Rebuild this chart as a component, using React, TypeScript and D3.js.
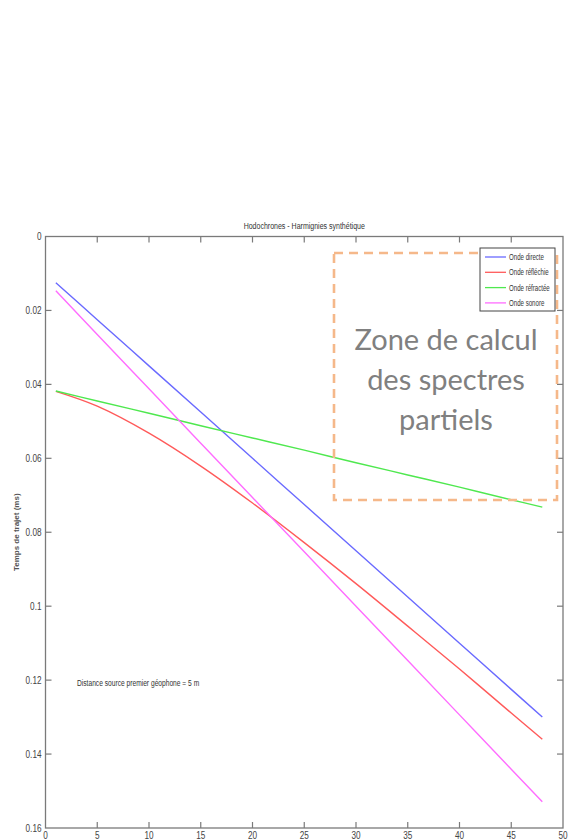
import React, { useEffect, useRef } from 'react';
import * as d3 from 'd3';

// offsets along the spread (m)
const positions = [1, 5, 10, 15, 20, 25, 30, 35, 40, 45, 48];
// travel times (s)
const directe = [0.0125, 0.0225, 0.035, 0.0475, 0.06, 0.0725, 0.085, 0.0975, 0.11, 0.1225, 0.13];
const reflechie = [0.0419, 0.0459, 0.0532, 0.0621, 0.0721, 0.0828, 0.0939, 0.1054, 0.117, 0.1289, 0.136];
const refractee = [0.0418, 0.0445, 0.0478, 0.0512, 0.0545, 0.0578, 0.0612, 0.0645, 0.0678, 0.0712, 0.0732];
const sonore = [0.0147, 0.0265, 0.0412, 0.0559, 0.0706, 0.0853, 0.1, 0.1147, 0.1294, 0.1441, 0.1529];

const seriesNames = ['Onde directe', 'Onde réfléchie', 'Onde réfractée', 'Onde sonore'];
const seriesColors = ['#6a6aff', '#ff5a5a', '#4fe84f', '#ff6cff'];
const xTicks = [0, 5, 10, 15, 20, 25, 30, 35, 40, 45, 50];
const yTicks = [0, 0.02, 0.04, 0.06, 0.08, 0.1, 0.12, 0.14, 0.16];
const zoneLines = ['Zone de calcul', 'des spectres', 'partiels'];

const sans = '"Liberation Sans", Arial, sans-serif';

export default function App() {
  const svgRef = useRef<SVGSVGElement>(null);

  useEffect(() => {
    if (!svgRef.current) return;
    const svg = d3.select(svgRef.current);
    svg.selectAll('*').remove();

    const W = 568, H = 840;
    const left = 45.5, right = 563, top = 236.5, bottom = 828;

    svg.attr('width', W).attr('height', H);
    svg.append('rect').attr('width', W).attr('height', H).attr('fill', '#fff');

    const x = d3.scaleLinear().domain([0, 50]).range([left, right]);
    const y = d3.scaleLinear().domain([0, 0.16]).range([top, bottom]);

    const axisColor = '#7a7a7a';
    const textColor = '#444';
    const tickLen = 6;

    // condensed text, matlab figure fonts look like arial narrow
    const narrowText = (g: any, tx: number, ty: number, txt: string, size: number,
                        anchor = 'start', dy = '0.35em', fill = textColor, sx = 0.78) =>
      g.append('text')
        .attr('transform', `translate(${tx},${ty}) scale(${sx},1)`)
        .attr('dy', dy)
        .attr('text-anchor', anchor)
        .style('font-family', sans).style('font-size', size + 'px').style('fill', fill)
        .text(txt);

    // box
    svg.append('rect')
      .attr('x', left).attr('y', top)
      .attr('width', right - left).attr('height', bottom - top)
      .attr('fill', 'none').attr('stroke', axisColor).attr('stroke-width', 1.3);

    // ticks (inward, mirrored like matlab)
    const tk = svg.append('g').attr('stroke', axisColor).attr('stroke-width', 1.2);
    xTicks.slice(1, -1).forEach(v => {
      tk.append('line').attr('x1', x(v)).attr('x2', x(v)).attr('y1', bottom).attr('y2', bottom - tickLen);
      tk.append('line').attr('x1', x(v)).attr('x2', x(v)).attr('y1', top).attr('y2', top + tickLen);
    });
    yTicks.slice(1, -1).forEach(v => {
      tk.append('line').attr('x1', left).attr('x2', left + tickLen).attr('y1', y(v)).attr('y2', y(v));
      tk.append('line').attr('x1', right).attr('x2', right - tickLen).attr('y1', y(v)).attr('y2', y(v));
    });

    const fmt = (d: number) => (d === 0 ? '0' : String(+d.toFixed(2)));

    const yg = svg.append('g');
    yTicks.forEach(d => narrowText(yg, left - 4, y(d), fmt(d), 10.5, 'end'));
    const xg = svg.append('g');
    xTicks.forEach(d => narrowText(xg, x(d), bottom + 3, String(d), 10.5, 'middle', '0.75em'));

    // title
    narrowText(svg, (left + right) / 2, top - 11, 'Hodochrones - Harmignies synthétique', 9, 'middle', '0.35em', '#333');

    // y label
    svg.append('text')
      .attr('transform', `translate(19,${(top + bottom) / 2}) rotate(-90)`)
      .attr('text-anchor', 'middle')
      .style('font-family', sans).style('font-size', '8px')
      .style('font-weight', 'bold').style('fill', '#555')
      .text('Temps de trajet (ms)');

    // curves
    const allSeries = [directe, reflechie, refractee, sonore];
    const line = d3.line<number>()
      .x((_, i) => x(positions[i]))
      .y(d => y(d))
      .curve(d3.curveCatmullRom);

    allSeries.forEach((s, i) => {
      svg.append('path')
        .datum(s)
        .attr('d', line)
        .attr('fill', 'none')
        .attr('stroke', seriesColors[i])
        .attr('stroke-width', 1.4);
    });

    // annotation
    narrowText(svg, 77, 683, 'Distance source premier géophone = 5 m', 9, 'start', '0.35em', '#333', 0.74);

    // orange dashed zone
    svg.append('rect')
      .attr('x', 334).attr('y', 253)
      .attr('width', 557 - 334).attr('height', 500 - 253)
      .attr('fill', 'none')
      .attr('stroke', '#f5b88a')
      .attr('stroke-width', 2.6)
      .attr('stroke-dasharray', '9,6');

    const zt = svg.append('text')
      .attr('text-anchor', 'middle')
      .style('font-family', 'Lato, "Open Sans", sans-serif')
      .style('font-size', '29px')
      .style('fill', '#808080');
    zoneLines.forEach((t, i) => {
      zt.append('tspan').attr('x', 446).attr('y', 350 + i * 40).text(t);
    });

    // legend
    const lg = svg.append('g');
    lg.append('rect')
      .attr('x', 480).attr('y', 248).attr('width', 75).attr('height', 63)
      .attr('fill', '#fff').attr('stroke', '#444').attr('stroke-width', 1);
    seriesNames.forEach((n, i) => {
      const yy = 257 + i * 15.3;
      lg.append('line')
        .attr('x1', 485).attr('x2', 506).attr('y1', yy).attr('y2', yy)
        .attr('stroke', seriesColors[i]).attr('stroke-width', 1.3);
      narrowText(lg, 509, yy, n, 8.5, 'start', '0.35em', '#333', 0.72);
    });
  }, []);

  return (
    <div style={{ position: 'absolute', left: 0, top: 0 }}>
      <svg ref={svgRef} style={{ display: 'block' }}></svg>
    </div>
  );
}
